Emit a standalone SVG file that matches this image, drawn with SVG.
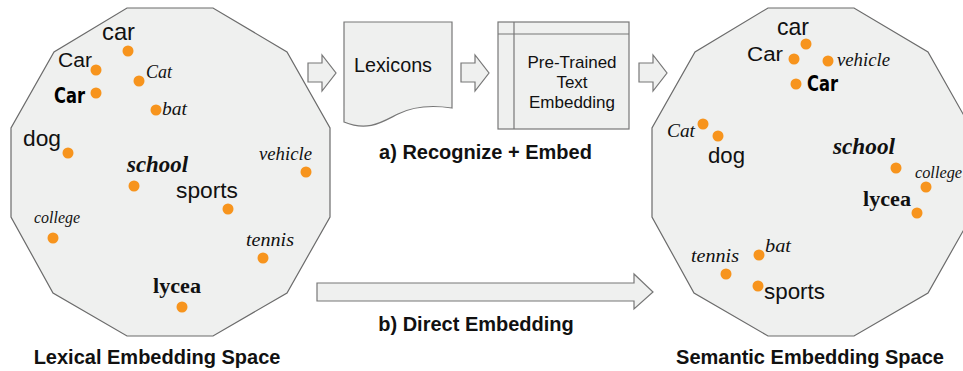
<svg xmlns="http://www.w3.org/2000/svg" width="963" height="371" viewBox="0 0 963 371">
<style>
.space{fill:#eff0ef;stroke:#6b6b6b;stroke-width:1.2}
.shape{fill:#eff0ef;stroke:#777;stroke-width:1.2}
.dot{fill:#f7941d}
.s{font-family:"Liberation Sans",Arial,sans-serif;fill:#111}
.h{font-family:"Liberation Serif","DejaVu Serif",serif;font-style:italic;fill:#111}
.hb{font-family:"Liberation Serif","DejaVu Serif",serif;font-weight:bold;fill:#111}
.sc{font-family:"Liberation Serif","DejaVu Serif",serif;font-style:italic;font-weight:bold;fill:#111}
.nb{font-family:"Liberation Sans Narrow","DejaVu Sans Condensed","Liberation Sans",sans-serif;font-weight:bold;font-stretch:condensed;fill:#000}
.cap{font-family:"Liberation Sans",Arial,sans-serif;font-weight:bold;font-size:20px;fill:#111;text-anchor:middle}
</style>
<defs>
<polygon id="dodec" points="127,8 213,8 287,52 330,128 330,217 287,293 213,336 127,336 53,293 11,217 11,128 54,52"/>
</defs>

<g id="lexical-space">
<use href="#dodec" class="space"/>
<text class="s" x="102" y="40" font-size="24" textLength="33" lengthAdjust="spacingAndGlyphs">car</text>
<circle class="dot" cx="128" cy="51" r="5.5"/>
<text class="s" x="58" y="67" font-size="20" textLength="34" lengthAdjust="spacingAndGlyphs">Car</text>
<circle class="dot" cx="96" cy="70" r="5.5"/>
<text class="nb" x="54" y="103" font-size="21" textLength="31" lengthAdjust="spacingAndGlyphs">Car</text>
<circle class="dot" cx="96" cy="93" r="5.5"/>
<text class="h" x="146" y="78" font-size="18" textLength="26" lengthAdjust="spacingAndGlyphs">Cat</text>
<circle class="dot" cx="139" cy="81" r="5.5"/>
<text class="h" x="162" y="115" font-size="18" textLength="25" lengthAdjust="spacingAndGlyphs">bat</text>
<circle class="dot" cx="156" cy="110" r="5.5"/>
<text class="s" x="23" y="146" font-size="22" textLength="38" lengthAdjust="spacingAndGlyphs">dog</text>
<circle class="dot" cx="68" cy="153" r="5.5"/>
<text class="sc" x="127" y="172" font-size="23" textLength="61" lengthAdjust="spacingAndGlyphs">school</text>
<circle class="dot" cx="134" cy="186" r="5.5"/>
<text class="h" x="259" y="160" font-size="18" textLength="53" lengthAdjust="spacingAndGlyphs">vehicle</text>
<circle class="dot" cx="306" cy="172" r="5.5"/>
<text class="s" x="176" y="198" font-size="22" textLength="62" lengthAdjust="spacingAndGlyphs">sports</text>
<circle class="dot" cx="228" cy="209" r="5.5"/>
<text class="h" x="34" y="223" font-size="16" textLength="46" lengthAdjust="spacingAndGlyphs">college</text>
<circle class="dot" cx="53" cy="238" r="5.5"/>
<text class="h" x="246" y="246" font-size="18" textLength="48" lengthAdjust="spacingAndGlyphs">tennis</text>
<circle class="dot" cx="263" cy="258" r="5.5"/>
<text class="hb" x="153" y="293" font-size="20" textLength="48" lengthAdjust="spacingAndGlyphs">lycea</text>
<circle class="dot" cx="182" cy="307" r="5.5"/>
<text class="cap" x="157" y="364">Lexical Embedding Space</text>
</g>

<g id="lexicons">
<path class="shape" d="M344,22 H452 V108 C432,105 414,106 398,114 C382,122 368,132 344,122 Z"/>
<text class="s" x="354" y="72" font-size="20" textLength="78" lengthAdjust="spacingAndGlyphs">Lexicons</text>
</g>

<g id="pretrained">
<rect class="shape" x="498" y="22" width="131" height="107"/>
<line x1="514" y1="22" x2="514" y2="129" stroke="#777" stroke-width="1.2"/>
<line x1="498" y1="34" x2="629" y2="34" stroke="#777" stroke-width="1.2"/>
<text class="s" font-size="17" text-anchor="middle"><tspan x="572" y="68">Pre-Trained</tspan><tspan x="572" y="88">Text</tspan><tspan x="572" y="108">Embedding</tspan></text>
</g>

<text class="cap" x="485.5" y="159">a) Recognize + Embed</text>
<text class="cap" x="476" y="331">b) Direct Embedding</text>

<g id="semantic-space">
<use href="#dodec" class="space" transform="translate(641,0)"/>
<text class="s" x="777" y="35" font-size="24" textLength="32" lengthAdjust="spacingAndGlyphs">car</text>
<circle class="dot" cx="806" cy="44" r="5.5"/>
<text class="s" x="747" y="61" font-size="20" textLength="36" lengthAdjust="spacingAndGlyphs">Car</text>
<circle class="dot" cx="794" cy="59" r="5.5"/>
<text class="h" x="837" y="66" font-size="18" textLength="53" lengthAdjust="spacingAndGlyphs">vehicle</text>
<circle class="dot" cx="828" cy="61" r="5.5"/>
<text class="nb" x="807" y="91" font-size="21" textLength="31" lengthAdjust="spacingAndGlyphs">Car</text>
<circle class="dot" cx="796" cy="84" r="5.5"/>
<text class="h" x="667" y="137" font-size="18" textLength="28" lengthAdjust="spacingAndGlyphs">Cat</text>
<circle class="dot" cx="703" cy="124" r="5.5"/>
<text class="s" x="708" y="163" font-size="22" textLength="37" lengthAdjust="spacingAndGlyphs">dog</text>
<circle class="dot" cx="718" cy="136" r="5.5"/>
<text class="sc" x="833" y="154" font-size="23" textLength="62" lengthAdjust="spacingAndGlyphs">school</text>
<circle class="dot" cx="896" cy="168" r="5.5"/>
<text class="h" x="915" y="178" font-size="16" textLength="47" lengthAdjust="spacingAndGlyphs">college</text>
<circle class="dot" cx="926" cy="187" r="5.5"/>
<text class="hb" x="863" y="206" font-size="20" textLength="48" lengthAdjust="spacingAndGlyphs">lycea</text>
<circle class="dot" cx="917" cy="213" r="5.5"/>
<text class="h" x="765" y="252" font-size="18" textLength="26" lengthAdjust="spacingAndGlyphs">bat</text>
<circle class="dot" cx="759" cy="255" r="5.5"/>
<text class="h" x="691" y="262" font-size="18" textLength="48" lengthAdjust="spacingAndGlyphs">tennis</text>
<circle class="dot" cx="726" cy="274" r="5.5"/>
<text class="s" x="764" y="299" font-size="22" textLength="61" lengthAdjust="spacingAndGlyphs">sports</text>
<circle class="dot" cx="758" cy="286" r="5.5"/>
<text class="cap" x="810" y="364">Semantic Embedding Space</text>
</g>

<g id="connectors">
<polygon class="shape" points="308,63 322,63 322,55 336,73 322,91 322,82 308,82"/>
<polygon class="shape" points="461,63 475,63 475,55 489,73 475,91 475,82 461,82"/>
<polygon class="shape" points="639,63 653,63 653,55 667,73 653,91 653,82 639,82"/>
<polygon class="shape" points="317,283 634,283 634,274 653,292 634,309 634,301 317,301"/>
</g>
</svg>
